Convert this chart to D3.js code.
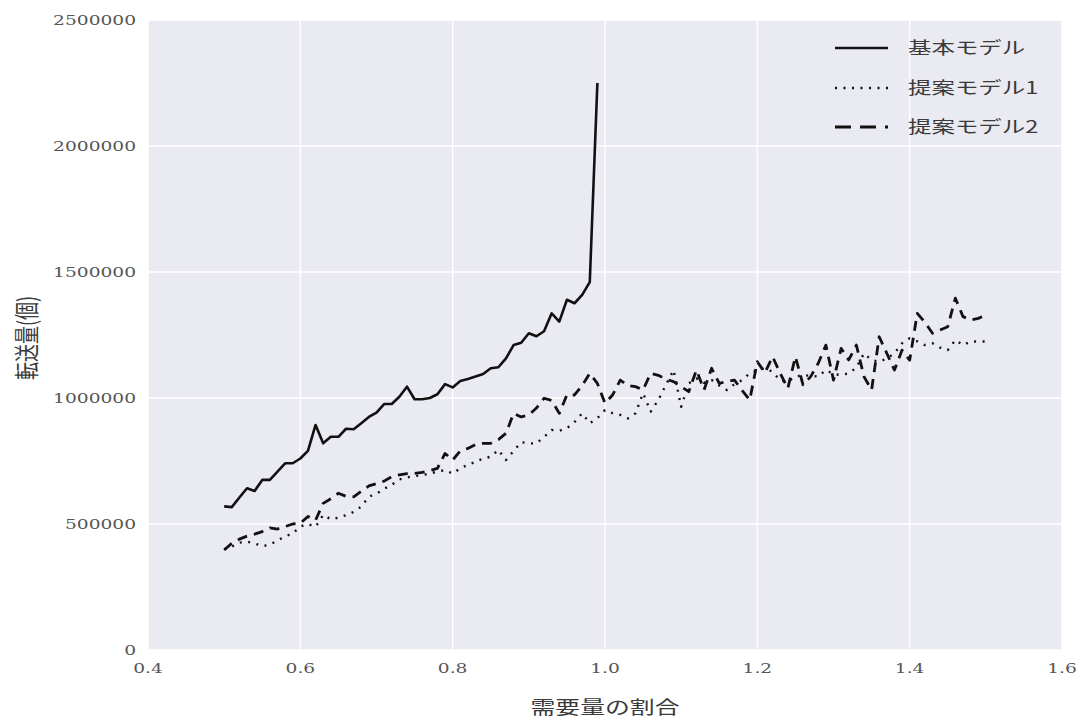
<!DOCTYPE html>
<html><head><meta charset="utf-8">
<script src="https://cdn.jsdelivr.net/npm/d3@7/dist/d3.min.js"></script>
<style>body{margin:0;background:#fff}</style>
</head><body>
<svg id="c" width="1078" height="719"></svg>
<script>
const ratios = [0.50,0.51,0.52,0.53,0.54,0.55,0.56,0.57,0.58,0.59,0.60,0.61,0.62,0.63,0.64,0.65,0.66,0.67,0.68,0.69,0.70,0.71,0.72,0.73,0.74,0.75,0.76,0.77,0.78,0.79,0.80,0.81,0.82,0.83,0.84,0.85,0.86,0.87,0.88,0.89,0.90,0.91,0.92,0.93,0.94,0.95,0.96,0.97,0.98,0.99,1.00,1.01,1.02,1.03,1.04,1.05,1.06,1.07,1.08,1.09,1.10,1.11,1.12,1.13,1.14,1.15,1.16,1.17,1.18,1.19,1.20,1.21,1.22,1.23,1.24,1.25,1.26,1.27,1.28,1.29,1.30,1.31,1.32,1.33,1.34,1.35,1.36,1.37,1.38,1.39,1.40,1.41,1.42,1.43,1.44,1.45,1.46,1.47,1.48,1.49,1.50];

const basicModel = [570000,567000,605000,642000,631000,675000,675000,708000,741000,741000,760000,790000,893000,820000,846000,846000,878000,876000,900000,925000,942000,976000,976000,1005000,1045000,995000,995000,1000000,1015000,1055000,1042000,1067000,1075000,1085000,1095000,1118000,1122000,1157000,1210000,1219000,1257000,1245000,1265000,1336000,1303000,1390000,1376000,1409000,1460000,2250000];

const proposedModel1 = [400000,410000,426000,430000,423000,412000,418000,435000,450000,463000,490000,500000,489000,536000,519000,525000,535000,548000,569000,608000,620000,640000,655000,677000,685000,690000,694000,700000,708000,714000,700000,721000,735000,747000,760000,767000,794000,754000,790000,825000,820000,820000,845000,873000,870000,880000,905000,939000,900000,920000,952000,940000,933000,919000,939000,1019000,946000,992000,1052000,1111000,965000,1058000,1078000,1060000,1071000,1050000,1032000,1055000,1071000,1098000,1110000,1118000,1104000,1070000,1065000,1085000,1091000,1088000,1085000,1111000,1095000,1091000,1098000,1120000,1177000,1151000,1144000,1157000,1177000,1217000,1237000,1225000,1210000,1217000,1200000,1190000,1230000,1210000,1224000,1224000,1224000];

const proposedModel2 = [397000,423000,440000,452000,460000,470000,485000,480000,490000,500000,503000,530000,515000,582000,600000,622000,610000,608000,630000,651000,660000,670000,688000,695000,700000,701000,705000,712000,721000,780000,754000,790000,800000,815000,820000,820000,835000,860000,939000,925000,933000,960000,999000,990000,939000,1012000,1012000,1050000,1098000,1058000,979000,1012000,1071000,1050000,1045000,1032000,1098000,1090000,1075000,1065000,1045000,1025000,1111000,1032000,1118000,1058000,1065000,1071000,1030000,992000,1144000,1100000,1164000,1098000,1038000,1164000,1052000,1085000,1138000,1210000,1071000,1197000,1151000,1210000,1085000,1032000,1243000,1177000,1111000,1190000,1150000,1336000,1300000,1257000,1270000,1283000,1396000,1323000,1310000,1316000,1329000];

const xTicks = [0.4,0.6,0.8,1.0,1.2,1.4,1.6];
const xTickLabels = ["0.4","0.6","0.8","1.0","1.2","1.4","1.6"];
const yTicks = [0,500000,1000000,1500000,2000000,2500000];
const yTickLabels = ["0","500000","1000000","1500000","2000000","2500000"];
const seriesNames = ["基本モデル","提案モデル1","提案モデル2"];
const xLabel = "需要量の割合";
const yLabel = "転送量(個)";

const SX = 1.38; // horizontal stretch of text in the reference
const L = 148, R = 1062, T = 20, B = 650;
const svg = d3.select("#c");
const x = d3.scaleLinear().domain([0.4,1.6]).range([L,R]);
const y = d3.scaleLinear().domain([0,2500000]).range([B,T]);

svg.append("rect").attr("x",L).attr("y",T).attr("width",R-L).attr("height",B-T).attr("fill","#EAEAF2");

const g = svg.append("g");
g.selectAll(".vg").data(xTicks).join("line")
  .attr("x1",d=>x(d)).attr("x2",d=>x(d)).attr("y1",T).attr("y2",B)
  .attr("stroke","#fff").attr("stroke-width",1.4);
g.selectAll(".hg").data(yTicks).join("line")
  .attr("x1",L).attr("x2",R).attr("y1",d=>y(d)).attr("y2",d=>y(d))
  .attr("stroke","#fff").attr("stroke-width",1.4);

const tickFont = "'DejaVu Serif', serif";
const jpFont = "'Noto Sans CJK JP', 'Noto Sans', sans-serif";

svg.selectAll(".xt").data(xTicks).join("text")
  .attr("transform",d=>`translate(${x(d)},${B+23}) scale(${SX},1)`)
  .attr("text-anchor","middle").attr("font-family",tickFont).attr("font-size",13.5)
  .attr("fill","#555").text((d,i)=>xTickLabels[i]);
svg.selectAll(".yt").data(yTicks).join("text")
  .attr("transform",d=>`translate(${L-12},${y(d)+5}) scale(${SX},1)`)
  .attr("text-anchor","end").attr("font-family",tickFont).attr("font-size",13.5)
  .attr("fill","#555").text((d,i)=>yTickLabels[i]);

svg.append("text").attr("transform",`translate(${(L+R)/2},${B+64}) scale(${SX},1)`)
  .attr("text-anchor","middle").attr("font-family",jpFont).attr("font-size",18)
  .attr("fill","#3a3a3a").text(xLabel);
svg.append("text").attr("transform",`translate(36,${(T+B)/2 + 3}) scale(${SX},1) rotate(-90)`)
  .attr("text-anchor","middle").attr("font-family",jpFont).attr("font-size",18)
  .attr("fill","#3a3a3a").text(yLabel);

const styles = [
  {dash:null, w:2.6},
  {dash:"2,6.5", w:2.4},
  {dash:"10,7", w:2.8}
];
const seriesData = [basicModel, proposedModel1, proposedModel2];
const line = d3.line().x(d=>x(d[0])).y(d=>y(d[1]));
seriesData.forEach((vals,i)=>{
  const pts = vals.map((v,j)=>[ratios[j],v]);
  const p = svg.append("path").datum(pts).attr("d",line)
    .attr("fill","none").attr("stroke","#111").attr("stroke-width",styles[i].w)
    .attr("stroke-linejoin","round");
  if(styles[i].dash) p.attr("stroke-dasharray",styles[i].dash);
});

const legY = [48,88,127];
seriesNames.forEach((n,i)=>{
  const l = svg.append("line").attr("x1",835).attr("x2",888).attr("y1",legY[i]).attr("y2",legY[i])
    .attr("stroke","#111").attr("stroke-width",styles[i].w);
  if(styles[i].dash) l.attr("stroke-dasharray",i===2?"16,9":styles[i].dash);
  svg.append("text").attr("transform",`translate(908,${legY[i]+6}) scale(${SX},1)`)
    .attr("font-family",jpFont).attr("font-size",17).attr("fill","#3a3a3a").text(n);
});
</script>
</body></html>
